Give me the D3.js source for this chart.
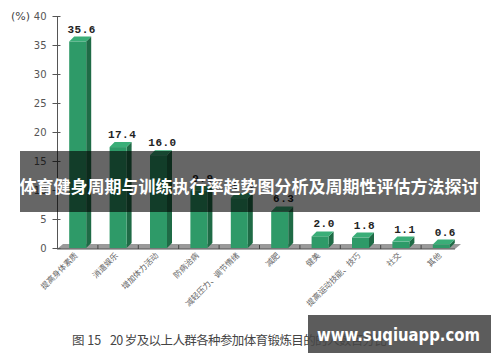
<!DOCTYPE html>
<html><head><meta charset="utf-8">
<script src="https://cdn.jsdelivr.net/npm/d3@7/dist/d3.min.js"></script>
<style>body{margin:0;background:#fff;}svg{display:block;}</style>
</head><body>
<svg id="c" width="500" height="362"></svg>
<script>
const categories = ["提高身体素质","消遣娱乐","增加体力活动","防病治病","减轻压力、调节情绪","减肥","健美","提高运动技能、技巧","社交","其他"];
const values = [35.6, 17.4, 16.0, 9.9, 8.6, 6.3, 2.0, 1.8, 1.1, 0.6];
const yTicks = [0,5,10,15,20,25,30,35,40];
const title = "体育健身周期与训练执行率趋势图分析及周期性评估方法探讨";
const captionLead = "图 15";
const caption = "20 岁及以上人群各种参加体育锻炼目的的人数百分比";
const watermark = "www.suqiuapp.com";

const svg = d3.select("#c");
const x = d3.scaleBand().domain(categories).range([57, 461]).paddingInner(0).paddingOuter(0);
const y = d3.scaleLinear().domain([0, 40]).range([248, 16]);
const depth = 5, bw = 17;

// floor
const x0 = x.range()[0], x1 = x.range()[1];
svg.append("polygon")
  .attr("points", [[x0,y(0)+1],[x1-6,y(0)+1],[x1,y(0)-4],[x0+6,y(0)-4]].map(p=>p.join(",")).join(" "))
  .attr("fill","#9a9a9a");
svg.append("line").attr("x1",x0).attr("x2",x1-6).attr("y1",y(0)+1).attr("y2",y(0)+1).attr("stroke","#555").attr("stroke-width",1);
categories.forEach((c,i)=>{
  const xx = x(c);
  if(i>0) svg.append("line").attr("x1",xx+0.5).attr("x2",xx+0.5).attr("y1",y(0)-3).attr("y2",y(0)+1).attr("stroke","#444");
});

// y axis
const yAxis = d3.axisLeft(y).tickValues(yTicks).tickSize(5).tickPadding(6);
const ga = svg.append("g").attr("transform","translate(57.5,0)").call(yAxis);
ga.select(".domain").attr("stroke","#555").attr("d","M0,"+y(40)+"V"+(y(0)+1));
ga.selectAll(".tick line").attr("stroke","#555").attr("x1",3);
ga.selectAll(".tick text").attr("font-family","DejaVu Sans, sans-serif").attr("font-size",10).attr("fill","#555");
svg.append("text").attr("x",11).attr("y",20).attr("font-family","DejaVu Sans, sans-serif").attr("font-size",11).attr("fill","#444").text("(%)");

// bars
const g = svg.append("g");
categories.forEach((c,i)=>{
  const v = values[i];
  const bx = x(c) + (x.bandwidth()-bw)/2 + 0.5;
  const top = y(v), bot = y(0);
  g.append("polygon").attr("fill","#1f6b46")
    .attr("points",[[bx+bw,top],[bx+bw+depth,top-depth],[bx+bw+depth,bot-depth],[bx+bw,bot]].map(p=>p.join(",")).join(" "));
  g.append("polygon").attr("fill","#3aae78")
    .attr("points",[[bx,top],[bx+depth,top-depth],[bx+bw+depth,top-depth],[bx+bw,top]].map(p=>p.join(",")).join(" "));
  g.append("rect").attr("x",bx).attr("y",top).attr("width",bw).attr("height",bot-top).attr("fill","#2e9a68");
  g.append("text").attr("x",bx+bw/2+4).attr("y",top-depth-4).attr("text-anchor","middle")
    .attr("font-family","Liberation Mono, DejaVu Sans Mono, monospace").attr("font-weight","bold")
    .attr("font-size",11).attr("letter-spacing","0.5").attr("fill","#222").text(v.toFixed(1));
  const cx = x(c) + x.bandwidth()/2 + 1;
  g.append("text").attr("transform",`translate(${cx},${bot+8}) rotate(-45)`)
    .attr("text-anchor","end").attr("font-family","Noto Sans CJK SC, sans-serif")
    .attr("font-size",8).attr("fill","#666").text(c);
});

// caption
svg.append("text").attr("x",72).attr("y",345).attr("font-family","Noto Sans CJK SC, sans-serif")
  .attr("font-size",12.5).attr("fill","#444").text(captionLead);
svg.append("text").attr("x",110).attr("y",345).attr("font-family","Noto Sans CJK SC, sans-serif")
  .attr("font-size",12.5).attr("fill","#444").attr("textLength",277).attr("lengthAdjust","spacing").text(caption);

// banner
svg.append("rect").attr("x",20).attr("y",151).attr("width",460).attr("height",61).attr("fill","rgba(0,0,0,0.6)");
svg.append("text").attr("x",249).attr("y",193).attr("text-anchor","middle").attr("font-family","Noto Sans CJK SC, sans-serif")
  .attr("font-weight","bold").attr("font-size",17).attr("fill","#fff").text(title);

// watermark
svg.append("rect").attr("x",308).attr("y",315).attr("width",183).attr("height",38).attr("fill","rgba(70,70,70,0.88)");
svg.append("text").attr("x",317).attr("y",341).attr("font-family","DejaVu Sans, sans-serif")
  .attr("font-weight","bold").attr("font-size",18).attr("fill","#fff")
  .attr("textLength",163).attr("lengthAdjust","spacingAndGlyphs").text(watermark);
</script>
</body></html>
